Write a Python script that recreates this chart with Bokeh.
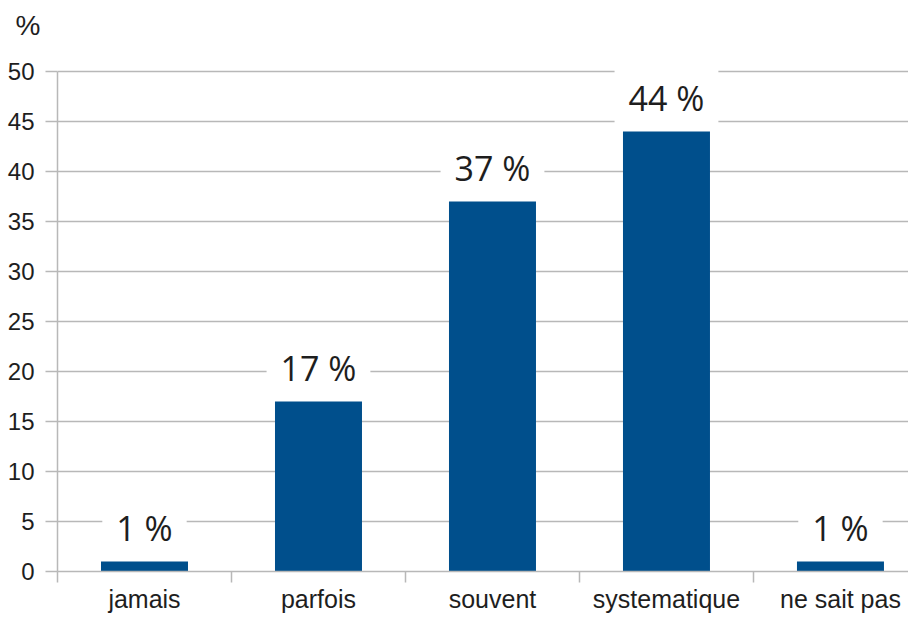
from bokeh.plotting import figure
from bokeh.models import Range1d, FixedTicker, ColumnDataSource
from bokeh.core.properties import value
from bokeh.embed import file_html
from bokeh.resources import INLINE

categories = ["jamais", "parfois", "souvent", "systematique", "ne sait pas"]
values = [1, 17, 37, 44, 1]
labels = ["1 %", "17 %", "37 %", "44 %", "1 %"]
y_ticks = [0, 5, 10, 15, 20, 25, 30, 35, 40, 45, 50]
unit_label = "%"

xs = [i + 0.5 for i in range(len(categories))]
bounds = [i for i in range(len(categories) + 1)]
src = ColumnDataSource(dict(x=xs, top=values, label=labels))

GRID = "#b8b8b8"
TXT = "#1e1e1e"

p = figure(width=908, height=615, output_backend="svg", toolbar_location=None,
           x_range=Range1d(0, 4.891), y_range=Range1d(0, 52.1),
           min_border_left=57, min_border_right=0, min_border_top=50,
           min_border_bottom=43, title=unit_label)
p.outline_line_color = None
p.background_fill_color = "white"
p.border_fill_color = "white"

p.title.text_font = "Liberation Sans"
p.title.text_font_size = "28px"
p.title.text_font_style = "normal"
p.title.text_color = TXT
p.title.align = "left"
p.title.vertical_align = "top"
p.title.offset = -42
p.title.standoff = 16

# data labels first (white box masks gridlines), bars drawn over them
p.text(x="x", y="top", text="label", source=src,
       text_font=value("Open Sans"), text_font_size="34px",
       text_align="center", text_baseline="alphabetic", text_color=TXT,
       y_offset=-34, background_fill_color="white", padding=14)

p.vbar(x="x", top="top", width=0.5, source=src, fill_color="#004f8c",
       line_color=None)

p.xgrid.grid_line_color = None
p.ygrid.grid_line_color = GRID
p.ygrid.grid_line_width = 1.5
p.ygrid.ticker = FixedTicker(ticks=y_ticks)

p.yaxis.ticker = FixedTicker(ticks=y_ticks)
p.yaxis.bounds = (y_ticks[0], y_ticks[-1])
p.yaxis.axis_line_color = GRID
p.yaxis.axis_line_width = 1.5
p.yaxis.major_tick_line_color = GRID
p.yaxis.major_tick_line_width = 1.5
p.yaxis.major_tick_out = 12
p.yaxis.major_tick_in = 0
p.yaxis.minor_tick_line_color = None
p.yaxis.major_label_standoff = 11
p.yaxis.major_label_text_font = "Liberation Sans"
p.yaxis.major_label_text_font_size = "24px"
p.yaxis.major_label_text_color = TXT

p.xaxis.ticker = FixedTicker(ticks=xs, minor_ticks=bounds)
p.xaxis.major_label_overrides = {x: c for x, c in zip(xs, categories)}
p.xaxis.axis_line_color = GRID
p.xaxis.axis_line_width = 1.5
p.xaxis.major_tick_line_color = None
p.xaxis.major_tick_out = 0
p.xaxis.major_tick_in = 0
p.xaxis.minor_tick_line_color = GRID
p.xaxis.minor_tick_line_width = 1.5
p.xaxis.minor_tick_out = 11
p.xaxis.minor_tick_in = 0
p.xaxis.major_label_standoff = 2
p.xaxis.major_label_text_font = "Liberation Sans"
p.xaxis.major_label_text_font_size = "25px"
p.xaxis.major_label_text_color = TXT

open("out.html", "w").write(file_html(p, INLINE))
